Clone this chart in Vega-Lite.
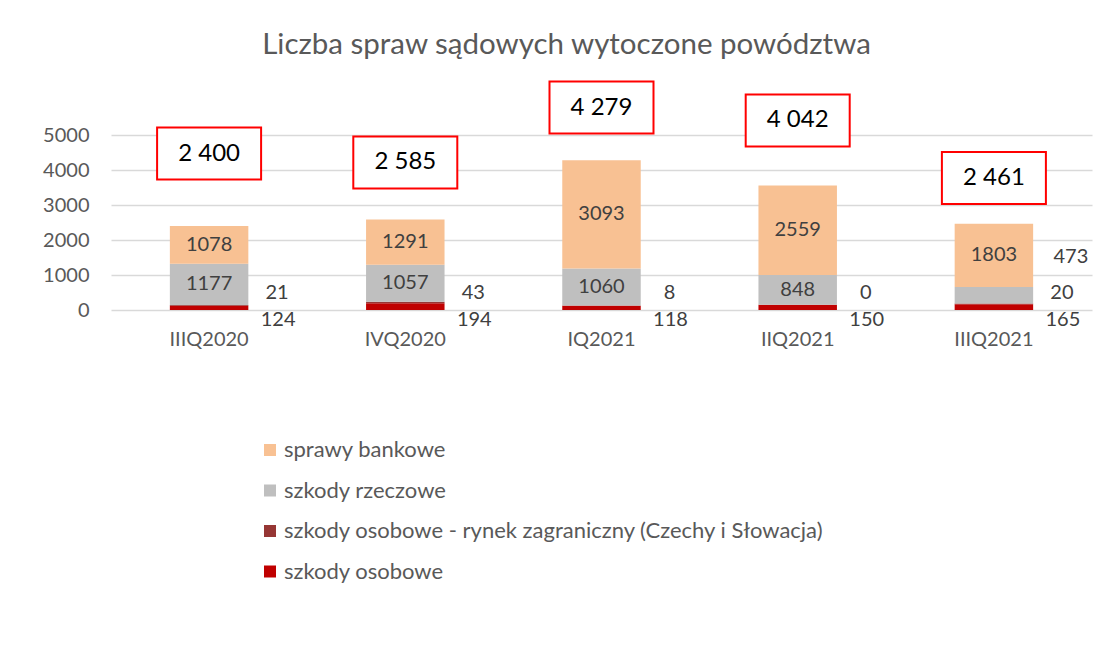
{
  "$schema": "https://vega.github.io/schema/vega-lite/v6.json",
  "width": 981,
  "height": 175,
  "autosize": {"type": "none"},
  "padding": {"left": 111, "top": 135, "right": 28, "bottom": 340},
  "background": "white",
  "title": {
    "text": "Liczba spraw sądowych wytoczone powództwa",
    "font": "Lato",
    "fontSize": 29.5,
    "fontWeight": "normal",
    "color": "#595959",
    "anchor": "middle",
    "frame": "group",
    "dx": -35,
    "offset": 17
  },
  "datasets": {
    "segs": [
      {"kwartal": "IIIQ2020", "seria": "szkody osobowe", "k": 1, "value": 124},
      {"kwartal": "IIIQ2020", "seria": "szkody osobowe - rynek zagraniczny (Czechy i Słowacja)", "k": 2, "value": 21},
      {"kwartal": "IIIQ2020", "seria": "szkody rzeczowe", "k": 3, "value": 1177},
      {"kwartal": "IIIQ2020", "seria": "sprawy bankowe", "k": 4, "value": 1078},
      {"kwartal": "IVQ2020", "seria": "szkody osobowe", "k": 1, "value": 194},
      {"kwartal": "IVQ2020", "seria": "szkody osobowe - rynek zagraniczny (Czechy i Słowacja)", "k": 2, "value": 43},
      {"kwartal": "IVQ2020", "seria": "szkody rzeczowe", "k": 3, "value": 1057},
      {"kwartal": "IVQ2020", "seria": "sprawy bankowe", "k": 4, "value": 1291},
      {"kwartal": "IQ2021", "seria": "szkody osobowe", "k": 1, "value": 118},
      {"kwartal": "IQ2021", "seria": "szkody osobowe - rynek zagraniczny (Czechy i Słowacja)", "k": 2, "value": 8},
      {"kwartal": "IQ2021", "seria": "szkody rzeczowe", "k": 3, "value": 1060},
      {"kwartal": "IQ2021", "seria": "sprawy bankowe", "k": 4, "value": 3093},
      {"kwartal": "IIQ2021", "seria": "szkody osobowe", "k": 1, "value": 150},
      {"kwartal": "IIQ2021", "seria": "szkody osobowe - rynek zagraniczny (Czechy i Słowacja)", "k": 2, "value": 0},
      {"kwartal": "IIQ2021", "seria": "szkody rzeczowe", "k": 3, "value": 848},
      {"kwartal": "IIQ2021", "seria": "sprawy bankowe", "k": 4, "value": 2559},
      {"kwartal": "IIIQ2021", "seria": "szkody osobowe", "k": 1, "value": 165},
      {"kwartal": "IIIQ2021", "seria": "szkody osobowe - rynek zagraniczny (Czechy i Słowacja)", "k": 2, "value": 20},
      {"kwartal": "IIIQ2021", "seria": "szkody rzeczowe", "k": 3, "value": 473},
      {"kwartal": "IIIQ2021", "seria": "sprawy bankowe", "k": 4, "value": 1803}
    ],
    "totals": [
      {"kwartal": "IIIQ2020", "label": "2 400", "boxY": 4470},
      {"kwartal": "IVQ2020", "label": "2 585", "boxY": 4215},
      {"kwartal": "IQ2021", "label": "4 279", "boxY": 5785},
      {"kwartal": "IIQ2021", "label": "4 042", "boxY": 5415},
      {"kwartal": "IIIQ2021", "label": "2 461", "boxY": 3770}
    ]
  },
  "config": {
    "view": {"stroke": null},
    "font": "Lato",
    "axisY": {
      "domain": false,
      "ticks": false,
      "labelFont": "Lato",
      "labelFontSize": 20,
      "labelColor": "#595959",
      "labelPadding": 22,
      "gridColor": "#D9D9D9",
      "gridWidth": 1.5
    },
    "axisX": {
      "domain": false,
      "ticks": false,
      "grid": false,
      "labelFont": "Lato",
      "labelFontSize": 20,
      "labelColor": "#595959",
      "labelPadding": 19,
      "labelAngle": 0
    }
  },
  "encoding": {
    "x": {
      "field": "kwartal",
      "type": "nominal",
      "sort": ["IIIQ2020", "IVQ2020", "IQ2021", "IIQ2021", "IIIQ2021"],
      "scale": {"paddingInner": 0.6, "paddingOuter": 0.3},
      "axis": {"title": null}
    }
  },
  "layer": [
    {
      "data": {"name": "segs"},
      "mark": {"type": "bar"},
      "encoding": {
        "y": {
          "field": "value",
          "type": "quantitative",
          "stack": "zero",
          "scale": {"domain": [0, 5000], "nice": false},
          "axis": {"title": null, "values": [0, 1000, 2000, 3000, 4000, 5000], "format": "d"}
        },
        "color": {
          "field": "seria",
          "type": "nominal",
          "scale": {
            "domain": ["sprawy bankowe", "szkody rzeczowe", "szkody osobowe - rynek zagraniczny (Czechy i Słowacja)", "szkody osobowe"],
            "range": ["#F8C193", "#BFBFBF", "#963634", "#C00000"]
          },
          "legend": {
            "orient": "none",
            "legendX": 148,
            "legendY": 304,
            "title": null,
            "direction": "vertical",
            "symbolType": "square",
            "symbolSize": 144,
            "symbolStrokeWidth": 0,
            "labelFont": "Lato",
            "labelFontSize": 22,
            "labelColor": "#595959",
            "labelLimit": 800,
            "labelOffset": 3,
            "rowPadding": 18.5
          }
        },
        "order": {"field": "k", "type": "quantitative"}
      }
    },
    {
      "data": {"name": "segs"},
      "mark": {"type": "text", "fontSize": 20, "color": "#404040", "font": "Lato"},
      "encoding": {
        "y": {
          "field": "value",
          "type": "quantitative",
          "stack": "zero",
          "bandPosition": 0.5,
          "scale": {"domain": [0, 5000], "nice": false},
          "axis": {"title": null, "values": [0, 1000, 2000, 3000, 4000, 5000], "format": "d"}
        },
        "detail": {"field": "seria"},
        "order": {"field": "k", "type": "quantitative"},
        "text": {
          "condition": {"test": "datum.k >= 3 && datum.value >= 600", "field": "value", "type": "quantitative"},
          "value": ""
        }
      }
    },
    {
      "data": {"name": "segs"},
      "transform": [{"filter": "datum.k == 1"}],
      "mark": {"type": "text", "fontSize": 20, "color": "#404040", "font": "Lato", "dx": 69, "dy": 10},
      "encoding": {
        "y": {"datum": 0, "type": "quantitative", "scale": {"domain": [0, 5000], "nice": false}, "axis": {"title": null, "values": [0, 1000, 2000, 3000, 4000, 5000], "format": "d"}},
        "text": {"field": "value", "type": "quantitative"}
      }
    },
    {
      "data": {"name": "segs"},
      "transform": [{"filter": "datum.k == 2"}],
      "mark": {"type": "text", "fontSize": 20, "color": "#404040", "font": "Lato", "dx": 68, "dy": -17},
      "encoding": {
        "y": {"datum": 0, "type": "quantitative", "scale": {"domain": [0, 5000], "nice": false}, "axis": {"title": null, "values": [0, 1000, 2000, 3000, 4000, 5000], "format": "d"}},
        "text": {"field": "value", "type": "quantitative"}
      }
    },
    {
      "data": {"name": "segs"},
      "transform": [{"filter": "datum.k == 3 && datum.value < 600"}],
      "mark": {"type": "text", "fontSize": 20, "color": "#404040", "font": "Lato", "dx": 77, "dy": -53},
      "encoding": {
        "y": {"datum": 0, "type": "quantitative", "scale": {"domain": [0, 5000], "nice": false}, "axis": {"title": null, "values": [0, 1000, 2000, 3000, 4000, 5000], "format": "d"}},
        "text": {"field": "value", "type": "quantitative"}
      }
    },
    {
      "data": {"name": "totals"},
      "mark": {
        "type": "point",
        "shape": "M-1,-0.5H1V0.5H-1Z",
        "size": 10816,
        "filled": true,
        "fill": "white",
        "stroke": "#FF0000",
        "strokeWidth": 2,
        "opacity": 1
      },
      "encoding": {
        "y": {"field": "boxY", "type": "quantitative", "scale": {"domain": [0, 5000], "nice": false}, "axis": {"title": null, "values": [0, 1000, 2000, 3000, 4000, 5000], "format": "d"}}
      }
    },
    {
      "data": {"name": "totals"},
      "mark": {"type": "text", "fontSize": 24, "color": "#000000", "font": "Lato"},
      "encoding": {
        "y": {"field": "boxY", "type": "quantitative", "scale": {"domain": [0, 5000], "nice": false}, "axis": {"title": null, "values": [0, 1000, 2000, 3000, 4000, 5000], "format": "d"}},
        "text": {"field": "label", "type": "nominal"}
      }
    }
  ]
}
